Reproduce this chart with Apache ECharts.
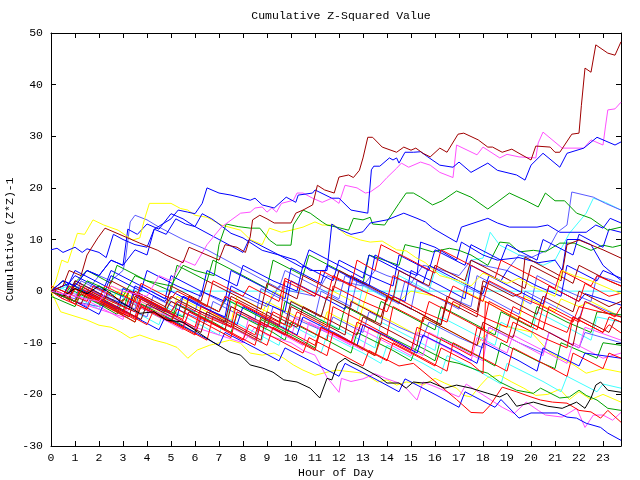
<!DOCTYPE html>
<html>
<head>
<meta charset="utf-8">
<script src="https://cdn.jsdelivr.net/npm/echarts@6/dist/echarts.min.js"></script>
<style>html,body{margin:0;padding:0;background:#fff}#c{width:640px;height:480px}</style>
</head>
<body>
<div id="c"></div>
<script>
// ---- data: [hour, cumulative (z*z)-1] ----
const sA = [[0,0],[0.5,1],[0.75,4],[1.25,3],[1.5,7],[1.95,10.3],[2.25,12.2],[2.75,11.2],[3.2,10.3],[3.7,9.3],[4.45,7.9],[4.8,7],[5.5,5.5],[5.75,8.5],[6.5,7],[7,6],[7.25,9],[7.75,8.5],[8.1,7.5],[8.3,10.5],[8.4,13.8],[8.7,14.7],[9,14],[9.3,13.2],[10,13.2],[10.2,15.1],[10.5,15.7],[10.9,16.7],[11.1,20.5],[11.4,19.6],[11.8,19],[12,22.1],[12.4,22.5],[12.6,22],[12.85,23.4],[13,25.8],[13.2,29.8],[13.4,29.8],[13.8,27.9],[14.4,26.9],[14.7,27.9],[15,27.3],[15.2,27.7],[15.5,26.7],[15.8,26],[16.2,27.7],[16.5,26.9],[16.96,30.4],[17.2,30.6],[17.8,29.3],[18.2,27.9],[18.4,27.9],[18.8,26.9],[19.2,27.5],[19.5,26.7],[20,25.4],[20.2,28.1],[20.8,27.9],[21,26.9],[21.2,26.9],[21.7,30.4],[22,30.6],[22.1,36],[22.25,43.2],[22.5,42.4],[22.7,47.7],[23.2,46.1],[23.5,45.7],[23.75,48.3]];
const sB = [[0,0],[0.5,2],[1,1],[1.5,4],[2,3],[2.5,6],[3,5],[3.5,8],[4,7],[4.3,12],[5,14],[5.3,15.7],[5.7,15.3],[6,15],[6.3,17],[6.5,20],[7,19],[7.5,18.6],[8,18],[8.3,17.6],[8.5,18],[8.8,16.7],[9.3,16.1],[9.8,18.2],[10.2,17.2],[10.3,18.6],[10.9,19],[11,19.6],[11.7,18],[12,18],[12.5,15.7],[13.2,15.1],[13.35,23.5],[13.45,24.2],[13.7,24.2],[14.1,25.8],[14.25,25.4],[14.4,25.8],[14.5,24.8],[14.75,26.9],[15.1,26.9],[15.4,27],[15.7,26],[16.2,24.4],[16.75,24],[17,25],[17.5,23],[18.2,24.8],[18.6,23.4],[19.4,22.5],[19.75,21.5],[20,24.4],[20.5,26.7],[21.2,24],[21.5,26.7],[22.2,27.7],[22.75,29.8],[23.5,28.3],[23.75,28.9]];
const sC = [[0,0],[1,-1],[2,-2],[2.5,1],[3,0],[4,-1],[4.5,3],[5,2],[5.5,6],[6,5],[6.5,9],[7.1,12.4],[7.9,15.1],[8.3,15.3],[8.5,16.1],[8.8,16.3],[9,15.3],[9.2,16.1],[9.4,15.3],[9.6,17],[10.1,17.6],[10.25,19],[10.5,19],[10.9,18],[11.3,17.2],[11.7,18],[12,17],[12.25,20.5],[12.75,20],[13.1,19],[13.3,19.2],[13.7,20.5],[14,22],[14.4,23.8],[14.6,24.8],[14.9,24],[15.4,25],[15.8,24.4],[16.2,23],[16.75,22],[16.9,28.3],[17.75,26.4],[18,27.9],[18.7,25.8],[19,26.5],[19.5,26],[20.2,25.8],[20.3,28.7],[20.5,30.8],[21.3,27.7],[22.2,27.7],[22.5,29.3],[23,28.3],[23.1,31.8],[23.2,35.1],[23.5,35.3],[23.75,36.6]];
const sD = [[0,0],[1,-2],[1.5,2],[2,1],[3,-1],[3.5,3],[4,2],[5,1],[5.5,5],[6,4],[6.8,3],[7,9],[7.3,13],[7.8,12.5],[8.3,12.2],[8.7,12.2],[9.1,9.9],[9.4,8.9],[10,8.9],[10.1,12.8],[10.5,15.7],[10.8,15.1],[11.3,13.4],[11.5,12.8],[11.9,12.4],[12.4,11.8],[12.6,14.1],[13,13.8],[13.3,14.3],[13.4,13],[13.9,12.8],[14.5,17],[14.8,19],[15.1,19],[15.4,18.2],[15.9,16.7],[16.3,17.5],[16.9,19.4],[17.5,18.2],[18.2,15.9],[19.1,19],[19.8,17.5],[20.3,16.3],[20.6,19],[21,17.5],[21.4,17.5],[21.9,15.1],[22.5,14.1],[23.2,11.8],[23.75,12.4]];
const sE = [[0,0],[0.75,1],[1,-0.5],[2.25,-3],[2.5,0],[3.75,-3],[4.75,-5.5],[5,-1],[6.25,-4],[7.25,-6.5],[7.5,-2],[8.75,-5],[9.75,-7.5],[10,-2],[11.25,-5],[11.5,-1],[12.75,-4],[13,1],[14.25,-2],[14.5,3],[15.75,0],[16,4],[17.25,1],[17.5,6],[18,6.4],[18.3,11.4],[18.7,8.9],[19.5,7],[20,6],[20.5,5],[21,6],[21.6,11.2],[22.3,15.1],[22.6,18],[23.1,17.2],[23.75,15.7]];
const sF = [[0,8],[0.25,8.3],[0.5,7.5],[1,8.5],[1.3,7.5],[1.5,8.2],[2,7.5],[2.3,6.5],[2.6,11],[3,10],[3.5,9],[4,8.5],[4.3,12],[4.8,11],[5.2,14],[5.6,13],[6,12.5],[6.3,15],[6.7,14],[7,13],[7.5,11.2],[8,10.3],[8.8,7.9],[9.5,7],[10.2,6],[10.8,4],[11.5,4],[11.7,13],[12,12],[12.5,11],[13,11.5],[13.3,13.2],[14,13.8],[14.7,15.1],[15.25,14.1],[15.6,13.4],[15.9,12.2],[16.9,9.5],[17.1,12.4],[18.2,14.1],[18.6,13.2],[19.1,12.4],[20.25,12.4],[20.7,12.8],[21.2,11.4],[22.3,11.4],[22.7,12.8],[23,12.2],[23.3,14.1],[23.75,13.2]];
const sG = [[0,0],[0.2,2],[0.45,6],[0.7,5.5],[1.1,11.2],[1.4,11],[1.75,13.8],[2.2,12.8],[2.8,11.8],[3.4,9.9],[3.7,10.3],[3.9,14],[4.1,17],[5,17],[5.4,16],[5.7,15.7],[6,14.7],[6.5,14.3],[7.1,12.8],[7.9,11.8],[8.3,10],[8.8,9],[9.1,12.2],[9.6,11.4],[10,11.8],[10.5,12.4],[11,13.4],[11.3,12.8],[11.8,12.8],[12.3,10.9],[12.9,9.9],[13.3,9.5],[13.8,9.7],[14.4,8],[14.8,7.8],[15.2,6.5],[15.6,5.5],[16.2,3],[17,2],[17.5,1],[18,3.5],[18.5,2.5],[19,1.5],[19.5,2.5],[20,1],[20.5,0],[21,-1],[21.3,4],[21.8,3],[22.5,2],[23,1],[23.75,-0.5]];
const sH = [[0,0],[0.5,-1],[1,0.5],[1.5,-0.5],[2,1],[2.5,-0.5],[2.9,-2.1],[3.7,-4.3],[4.3,-4],[4.8,-5.6],[5.5,-6],[6.1,-7.9],[6.75,-9.9],[7.45,-11.8],[7.9,-12.4],[8.3,-14.3],[8.8,-14.9],[9.25,-15.7],[9.7,-17.2],[10.25,-17.6],[10.8,-18.8],[11.2,-20.7],[11.5,-16.9],[11.7,-17.2],[11.95,-14],[12.25,-13],[12.5,-13.8],[12.75,-14.3],[13,-14.9],[13.7,-16.7],[14,-17.8],[14.5,-17.8],[14.8,-18.8],[15.1,-17.6],[15.5,-17.8],[15.8,-17.6],[16.4,-18.8],[16.9,-18.2],[17.5,-18.8],[18.2,-19.8],[18.7,-20.5],[19,-19.8],[19.4,-22.3],[20.1,-21.5],[20.7,-22.3],[21.3,-22.7],[21.9,-21.5],[22.25,-22.7],[22.5,-20.7],[22.7,-18.2],[22.9,-17.6],[23.2,-19.2],[23.75,-19.6]];
const sI = [[0,0],[1,-2],[2,-4.5],[2.25,-2],[3.5,-5],[4.5,-7.5],[4.75,-5],[6,-8],[7,-10.5],[7.25,-8],[8.5,-11],[9.5,-13.5],[9.75,-11],[11,-14],[12,-16.5],[12.25,-14],[13.5,-17],[14.5,-19.5],[14.75,-17],[16,-20],[17,-22.5],[17.25,-19.5],[18.5,-22.5],[18.75,-21],[19.5,-24.6],[20,-23.6],[21.1,-23.6],[21.5,-24.4],[21.9,-24.6],[22.3,-25.6],[22.9,-26.4],[23.2,-27.5],[23.75,-28.9]];
const sJ = [[0,0],[1,-2],[2,-3.5],[3,-5],[3.5,-2],[4,-3.5],[5,-5],[6,-7],[7,-8.5],[8,-10],[8.5,-7],[9,-8.5],[10,-10],[10.5,-11.5],[11,-12.4],[11.5,-16.7],[12,-19.6],[12.1,-16.9],[12.5,-17.5],[13,-17],[13.5,-16],[14,-17],[14.5,-17.8],[14.8,-18.8],[15.25,-21.1],[15.5,-17.6],[16,-18.5],[16.5,-19.5],[17,-20.5],[17.3,-18],[17.8,-19.5],[18.3,-21],[18.8,-22.5],[19.3,-23.7],[19.8,-21.5],[20.3,-23.1],[20.6,-24],[21.3,-24.4],[21.9,-22.7],[22.25,-26.4],[22.6,-24],[23,-24],[23.4,-25],[23.75,-23.5]];
const sK = [[0,0],[1,-2],[2,-3],[2.5,0],[3,-1],[4,-3],[5,-4],[5.5,-1],[6,-2],[7,-4],[7.5,0],[8,-1],[9,-3],[9.5,1],[10,0],[11,-1],[11.5,3],[12,2],[13,1],[13.5,4],[14,3],[15,1.5],[15.5,5],[16,4.5],[17,3],[17.5,6],[18,5],[19,4],[19.5,7],[20,6.5],[20.7,8],[21.1,11.4],[21.5,12.8],[21.7,19.2],[22.6,18.2],[23.1,17],[23.75,15.7]];
const sL = [[0,0],[0.75,1.5],[1,3],[2.25,0],[2.5,3],[3.75,0],[4,4],[5.25,1],[6.25,-1],[6.5,4],[7.75,1],[8,5],[9.25,2],[10.25,0],[10.5,5],[11.75,2],[12,6],[13.25,3],[14.25,1],[14.5,7],[15.75,4],[16,8],[17.25,5],[17.5,9],[18.75,6],[19,9],[20.25,6],[20.5,10],[21.75,7],[22,11],[23,8.5],[23.25,12],[23.75,11.4]];
const sM = [[0,0],[0.5,2],[0.75,0.5],[1.5,4],[2.5,1.5],[2.75,5],[4,2],[5,0],[5.25,5],[6.5,2],[6.75,6],[8,3],[9,0.5],[9.25,6],[10.5,3],[10.75,7],[12,4],[13,1.5],[13.25,7],[14.5,5],[14.75,9],[15.4,8.3],[15.9,7.6],[16.6,8.3],[17,7.9],[17.5,7],[18.2,5],[18.7,9.5],[19.1,9.3],[19.5,7.6],[20.1,7.9],[20.6,7.6],[21.2,9.3],[21.8,9.3],[22.5,7.9],[23,8.9],[23.4,8.5],[23.75,8.9]];
const sN = [[0,0],[0.75,-1.5],[1,1.5],[2.25,-1.5],[2.5,2],[3.75,-1],[4.75,-3.5],[5,1],[6.25,-2],[6.5,2],[7.75,-1],[8.75,-3.5],[9,1.5],[10.25,-1.5],[10.5,3],[11.75,0],[12,4],[13.25,1],[14.25,-1.5],[14.5,4],[15.75,1],[16,5],[17.25,2],[17.5,6],[18.75,3],[19.75,0.5],[20,5],[21.25,2],[21.5,9],[22,9.9],[23,8],[23.75,6.4]];
const sP = [[0,0],[0.5,-1],[1,1],[1.5,0],[2,3],[2.5,2],[3,4],[3.1,6],[3.3,13.4],[3.5,14.7],[4,13.8],[4.5,12.4],[5.5,10],[6.5,8],[7.5,5.5],[8.5,3],[9.5,0.5],[9.75,4],[11,1],[12,-1.5],[12.25,3],[13.5,0],[14.5,-2.5],[14.75,2],[16,-1],[17,-3.5],[17.25,1],[18.5,-2],[19.5,-4.5],[19.75,0],[21,-3],[22,-5.5],[22.25,-2],[23.75,-5]];
const sQ = [[0,0],[0.5,2],[1,1],[1.5,4],[2,3],[2.5,6],[3,5],[3.2,12],[3.6,11],[4,13],[4.5,12],[5,15],[5.5,14],[6,12.5],[7,10],[8,7.5],[8.25,10],[9.5,7],[10.5,4.5],[10.75,8],[12,5],[13,2.5],[13.25,7],[14.5,4],[15.5,1.5],[15.75,5],[17,2],[18,-0.5],[18.25,3],[19.5,0],[20.5,-2.5],[20.75,1],[22,-2],[22.25,-0.5],[23.75,-2.7]];
const sR = [[0,0],[0.4,-4],[1.5,-5.6],[2,-6.6],[2.5,-7],[2.9,-7.9],[3.3,-9.1],[3.7,-8.5],[4.3,-9.5],[4.8,-10.1],[5.25,-10.9],[5.7,-13],[6.1,-11.4],[6.6,-10.5],[7.45,-9.5],[7.9,-10.1],[8.3,-12],[8.8,-12.4],[9.3,-12],[9.7,-13],[10.1,-14.3],[10.5,-15.3],[11,-16.3],[11.5,-15.7],[11.9,-15.3],[13,-15.9],[13.6,-17.6],[14,-17.2],[14.4,-18.2],[14.8,-17.6],[15.25,-17.8],[15.5,-18.2],[16,-16.9],[16.4,-17.8],[16.9,-18.8],[17.2,-20.2],[17.5,-20.5],[17.9,-18.2],[18.2,-16.7],[18.7,-16.3],[19.2,-17.6],[19.7,-18.8],[20.2,-20.2],[20.7,-20],[21.2,-19],[21.6,-21],[22,-19.5],[22.5,-21],[23,-20],[23.75,-21.5]];
const sS = [[0,0],[1.25,-2.5],[1.5,0],[2.75,-3],[3.75,-5.5],[4,-2.5],[5.5,-6],[6.25,-8],[6.5,-4.5],[8,-8],[8.75,-10],[9,-6.5],[10.5,-10],[11.25,-12],[11.5,-8.5],[13,-12],[13.75,-14],[14,-10.5],[15.5,-14],[16.25,-16],[16.5,-12.5],[18,-16],[18.75,-18],[19,-14],[20.5,-17.5],[21.25,-19.5],[21.5,-16.5],[22.75,-19.5],[23,-18],[23.75,-18.8]];
const sT = [[0,0],[0.5,-1.5],[0.75,0.5],[2,-2.5],[2.75,-4.5],[3,-1.5],[4.5,-5],[5,-6],[5.25,-2.5],[6.75,-6],[7.5,-8],[7.75,-4.5],[9.25,-8],[9.75,-9.5],[10,-6],[11.5,-9.5],[12.5,-12],[12.75,-8],[14.25,-11.5],[15,-13.5],[15.25,-10.5],[16.5,-13.5],[17,-14],[17.75,-15.3],[18.2,-15.9],[18.7,-17.6],[19.4,-19.2],[20.1,-19.8],[20.4,-18.8],[21.2,-20.7],[21.6,-20.5],[22,-19.2],[22.3,-20.2],[22.75,-21.1],[23.2,-22.7],[23.75,-23.1]];
const sU = [[0,0],[0.5,-1],[0.75,1],[2,-2],[3,-4.5],[3.25,-1.5],[4.5,-4.5],[5.5,-7],[5.75,-4],[7,-7],[8,-9.5],[8.25,-6.5],[9.5,-9.5],[10.5,-12],[10.75,-9],[12,-12],[13,-14.5],[13.25,-11.5],[14.5,-14.5],[15.1,-14],[16,-17.5],[16.9,-21],[17.5,-23.5],[18,-23.6],[18.3,-22.1],[18.8,-18.6],[19.4,-19.5],[20,-20.5],[20.4,-21.1],[20.9,-21.5],[21.5,-21.7],[22,-23.1],[22.5,-23.4],[22.9,-24.6],[23.2,-23.1],[23.75,-25.4]];
const sW = [[0,0],[0.75,-1.5],[1,0.5],[2,-1.5],[2.25,1],[3.5,-2],[3.75,1.5],[5,-1.5],[5.25,0],[6.5,-3],[6.75,2],[8,-1],[8.25,1],[9.5,-2],[9.75,2.5],[11,-0.5],[11.5,-1.5],[11.75,3],[13,0],[14,-2],[14.25,3],[15.5,0],[16.5,-2],[16.75,1],[18,-2],[18.25,2],[19.5,-1],[20.5,-3],[20.75,1],[22,-2],[22.25,1.5],[23.25,-1],[23.75,-0.4]];
const sX = [[0,0],[1,-2],[1.25,1],[2.5,-2],[3.5,-4],[3.75,-1],[5,-4],[5.25,-2],[6.5,-5],[7.5,-7],[7.75,-2],[9,-5],[10,-7],[10.25,-4],[11.5,-7],[11.75,1],[13,-2],[14,-4],[14.25,-1],[15.5,-4],[16.5,-6],[16.75,-2],[18,-5],[19,-7],[19.25,-3],[20.5,-6],[21.5,-8],[21.75,-5],[23,-8],[23.25,-6.5],[23.75,-8.1]];
const sY = [[0,0],[1,-2],[1.5,-3],[1.75,0],[3,-3],[4,-5],[4.25,-1],[5.5,-4],[6.5,-6],[6.75,-2],[8,-5],[9,-7],[9.25,-3],[10.5,-6],[11.5,-8],[11.75,-5],[13,-8],[13.25,-4],[14.5,-7],[15.5,-9],[15.75,-6],[17,-9],[18,-11],[18.25,-7],[19.5,-10],[20.5,-12],[20.75,-8],[22,-11],[22.25,-8],[23.75,-10]];
const sZ = [[0,0],[0.5,-1],[0.75,1.5],[2,-1.5],[2.75,-3.5],[3,0.5],[4.25,-2.5],[5.25,-5],[5.5,-1],[6.75,-4],[7.75,-6.5],[8,-3],[9.25,-6],[10.25,-8.5],[10.5,-5],[12,-8.5],[12.75,-10.5],[13,-6.5],[14.5,-10],[15.25,-12],[15.5,-8.5],[17,-12],[17.75,-14],[18,-10],[19.5,-13.5],[20.25,-15.5],[20.5,-11],[22,-14.5],[22.25,-12],[23.75,-13]];
const sAA = [[0,0],[1,-2],[1.25,0.5],[2.5,-2.5],[3.5,-5],[3.75,-2],[5,-5],[6,-7.5],[6.25,-4],[7.5,-7],[8.5,-9.5],[8.75,-6],[10,-9],[10.25,-5],[11.5,-8],[12.5,-10.5],[12.75,-7],[14,-10],[15,-12.5],[15.25,-8],[16.5,-11],[17.5,-13.5],[17.75,-9],[19,-12],[19.25,-8.5],[20.5,-11.5],[21.5,-14],[21.75,-10],[23,-13],[23.75,-12]];
const sAB = [[0,0],[0.5,-1],[0.75,1.5],[2,-1.5],[3,-4],[3.25,0],[4.5,-3],[5.5,-5],[5.75,-1],[7,-4],[7.25,-1.5],[8.5,-4.5],[9.5,-7],[9.75,-2],[11,-5],[12,-7.5],[12.25,-3],[13.5,-6],[13.75,-2],[15,-5],[16,-7.5],[16.25,-3],[17.5,-6],[18.5,-8.5],[18.75,-4],[20,-7],[20.25,-3],[21.5,-6],[22.5,-8],[22.75,-4],[23.75,-4.6]];
const sAC = [[0,0],[0.75,-1.5],[1,2],[2.25,-1],[3.25,-3],[3.5,1],[4.75,-2],[5,0],[6.25,-3],[7.25,-5],[7.5,1],[8.75,-2],[9.75,-4],[10,2],[11.25,-1],[12.25,-3.5],[12.5,3],[13.75,0],[14.75,-2],[15,4],[16.25,1],[17.25,-1.5],[17.5,5],[18.75,2],[19,4],[20.25,1],[21.25,-1],[21.5,5],[22.75,2],[23,4],[23.75,2.5]];
const sAD = [[0,0],[1,-1.5],[1.25,2],[2.5,-1],[3.5,-3.5],[3.75,1],[5,-2],[6,-4],[6.25,0],[7.5,-3],[8.5,-5.5],[8.75,0.5],[10,-2.5],[11,-5],[11.25,0],[12.5,-3],[12.75,2],[14,-1],[15,-3.5],[15.25,2],[16.5,-1],[17.5,-3],[17.75,3],[19,0],[20,-2.5],[20.25,3],[21.5,0],[22.5,-2],[22.75,3],[23.75,1.6]];
const sAE = [[0,0],[0.75,1.5],[1,4],[2.25,1],[2.5,4],[3.75,1],[4.75,-1.5],[5,3],[6.25,0],[7.25,-2],[7.5,4],[8.75,1],[9.75,-1.5],[10,4.5],[11.25,1.5],[11.5,5],[12.75,2],[13.25,1],[13.5,7],[14.75,4],[15.25,3],[15.4,9.5],[16,8.5],[16.9,6],[17.1,9.5],[18,7],[18.6,6],[19.5,6.5],[20.3,5.5],[21,6],[21.3,4],[21.5,10],[22,10],[22.5,9],[23,5],[23.5,3],[23.75,2.1]];
const sAF = [[0,0],[0.5,-1.5],[1,-2.5],[1.25,-0.5],[2.5,-3.5],[3.5,-6],[3.75,-3],[5,-6],[6,-8.5],[6.25,-5],[7.5,-8],[8.5,-10.5],[8.75,-6],[10,-9],[11,-11.5],[11.25,-7],[12.5,-10],[12.75,-6],[14,-9],[15,-11.5],[15.25,-7],[16.5,-10],[17.5,-12.5],[17.75,-7],[19,-10],[19.25,-6],[20.5,-9],[21.5,-11],[21.75,-5],[23,-8],[23.25,-5],[23.75,-6]];
const sAG = [[0,1],[0.75,-0.5],[1,2],[2.25,-1],[3.25,-3.5],[3.5,0],[4.75,-3],[5,-1],[6.25,-4],[7.25,-6],[7.5,-1],[8.75,-4],[9.75,-6.5],[10,-2],[11.25,-5],[11.5,-1],[12.75,-4],[13.75,-6.5],[14,-1],[15.25,-4],[16.25,-6.5],[16.5,-2],[17.75,-5],[18,1],[19.25,-2],[20.25,-4.5],[20.5,-1],[21.75,-4],[22,0],[23.25,-3],[23.75,-2]];
const sAH = [[0,0],[0.5,-1.5],[0.75,0],[2,-3],[3,-5.5],[3.25,-2],[4.5,-5],[5.5,-7.5],[5.75,-4],[7,-7],[8,-9.5],[8.25,-5],[9.5,-8],[10.5,-10.5],[10.75,-6],[12,-9],[13,-11.5],[13.25,-7],[14.5,-10],[15.5,-12.5],[15.75,-8],[17,-11],[18,-13.5],[18.25,-7],[19.5,-10],[20.5,-12.5],[20.75,-8],[22,-11],[22.25,-7],[23.75,-9.5]];
const sAI = [[0,0],[0.5,0.5],[1,-1],[2,-3.5],[2.25,-1],[3.5,-4],[4.5,-6.5],[4.75,-3],[6,-6],[7,-8.5],[7.25,-5],[8.5,-8],[9.5,-10.5],[9.75,-6],[11,-9],[11.25,-5.5],[12.5,-8.5],[13.5,-11],[13.75,-6],[15,-9],[16,-11.5],[16.25,-5],[17.5,-8],[18.5,-10.5],[18.75,-6],[20,-9],[20.25,-4],[21.5,-7],[22.5,-9.5],[22.75,-5],[23.75,-6]];
const sAJ = [[0,-1],[1,-3],[1.25,-0.5],[2.75,-4],[3.5,-6],[3.75,-2.5],[5.25,-6],[6,-8],[6.25,-4],[7.75,-7.5],[8.5,-9.5],[8.75,-5.5],[10.25,-9],[11,-11],[11.25,-7],[12.75,-10.5],[13.5,-12.5],[13.75,-8],[15.25,-11.5],[16,-13.5],[16.25,-9],[17.75,-12.5],[18.5,-14.5],[18.75,-10],[20.25,-13.5],[21,-15],[21.25,-10],[22.75,-13],[23,-10],[23.75,-10.5]];
const sAK = [[0,1],[0.75,-0.5],[1.5,-2],[1.75,1],[3,-2],[3.25,0],[4.5,-3],[5.5,-5.5],[5.75,-1],[7,-4],[7.25,-1],[8.5,-4],[9.5,-6.5],[9.75,2],[11,-1],[11.25,4],[12.5,1],[12.75,6],[13.5,4],[13.75,9],[15,6],[16,3.5],[16.25,8],[17.5,5],[18.5,2.5],[18.75,6],[20,3],[21,0.5],[21.25,4],[22.5,1],[22.75,3],[23.75,1]];
const sAM = [[0,0],[1,-2],[1.25,0.5],[2.5,-2.5],[3.5,-5],[3.75,-1.5],[5,-4.5],[6,-7],[6.25,-3],[7.5,-6],[8.5,-8.5],[8.75,-5],[10,-8],[11,-10.5],[11.25,-7],[12.5,-10],[13.5,-12.5],[13.75,-9],[15,-12],[16,-14.5],[16.25,-11],[17.5,-14],[18,-16],[18.1,-2],[19.25,-5],[20.25,-7.5],[20.5,-3],[21.75,-6],[22,-3],[23.75,-5]];
const sAN = [[0,0],[0.75,-1.5],[1,0.5],[2.25,-2.5],[3.25,-5],[3.5,-1],[4.75,-4],[5,-2],[6.25,-5],[7.25,-7.5],[7.5,-3],[8.75,-6],[9.75,-8.5],[10,-3],[11.25,-6],[12.25,-8.5],[12.5,-2],[13.75,-5],[14,-1],[15.25,-4],[16.25,-6.5],[16.5,-1],[17.75,-4],[18,2],[19.25,-1],[19.6,-0.4],[19.75,6.6],[21,3.5],[21.75,1.5],[22,5],[23.25,2],[23.75,1]];
const sAO = [[0,0],[0.5,-1],[1,0.5],[1.5,-0.5],[2,1],[2.5,-1],[3,0.5],[3.6,0],[23.75,0]];
const sAP = [[0,0],[0.75,-1.5],[1,1],[2.25,-2],[2.5,1],[3.75,-2],[4.75,-4.5],[5,-1],[6.25,-4],[7.25,-6.5],[7.5,-2],[8.75,-5],[9,-2],[10.25,-5],[11.25,-7.5],[11.5,-4],[12.75,-7],[13,-3],[14.25,-6],[15.25,-8.5],[15.5,-5],[16.75,-8],[17.75,-10.5],[18,-8.9],[18.7,-6.6],[19.3,-7.2],[20,-7.9],[20.8,-12],[21.75,-14.2],[22.3,-15.9],[23,-15],[23.75,-15.7]];
const sAQ = [[0,0],[1,-2],[1.25,0],[2.5,-3],[2.75,0],[4,-3],[5,-5.5],[5.25,-1],[6.5,-4],[7.5,-6],[7.75,-1],[9,-4],[9.25,0],[10.5,-3],[11.5,-5.5],[11.75,0],[13,-3],[13.25,1],[14.5,-2],[15,0],[16,-1],[17,-3],[17.25,0],[18.5,-3],[19.5,-5.5],[19.75,-1],[21,-4],[21.25,-1.5],[22,-3],[22.5,-2],[23.75,-5]];
const sAR = [[0,0],[0.5,-1],[1,-2.5],[1.5,-3.5],[1.75,-1],[3,-4],[4,-6.5],[4.25,-4],[5.5,-7],[6.5,-9.5],[6.75,-5],[8,-8],[9,-10.5],[9.25,-7],[10.5,-10],[11.5,-12.5],[11.75,-8],[13,-11],[14,-13.5],[14.25,-10],[15.5,-13],[16.5,-15.5],[16.75,-10],[18,-13],[19,-15.5],[19.25,-11],[20.5,-14],[21.5,-16.5],[21.75,-12],[23,-15],[23.25,-12],[23.75,-13]];
const sAS = [[0,0.5],[0.5,-0.5],[1,-2],[1.25,0],[2.5,-3],[3.5,-5.5],[3.75,-3],[5,-6],[5.25,-3.5],[6.5,-6.5],[7.5,-9],[7.75,-4],[9,-7],[9.25,-4],[10.5,-7],[11.5,-9.5],[11.75,-3],[13,-6],[14,-8.5],[14.25,-3],[15.5,-6],[15.75,-2],[17,-5],[18,-7.5],[18.25,-2],[19.5,-5],[20.5,-7.5],[20.75,-3],[22,-6],[22.25,-2],[23.5,-5],[23.75,-3]];
const sAT = [[0,0],[1.25,-2.5],[1.5,0],[2.75,-3],[3.75,-5.5],[4,-2.5],[5.25,-5.5],[6.25,-8],[6.5,-4],[7.75,-7],[8.75,-9.5],[9,-4],[10.25,-7],[10.5,-3],[11.75,-6],[12.75,-8.5],[13,-5],[14.25,-8],[15.25,-10.5],[15.5,-5],[16.75,-8],[17.75,-10.5],[18,-6],[19.25,-9],[19.5,-5],[20.75,-8],[21.75,-10.5],[22,-5],[23.25,-8],[23.5,-5.5],[23.75,-6]];

const hourTicks = [0,1,2,3,4,5,6,7,8,9,10,11,12,13,14,15,16,17,18,19,20,21,22,23];

// series drawing order (first drawn at the bottom) with colours
const RED='#ff0000', DRED='#a00000', GRN='#00a000', BLU='#0000ff', LBL='#5a5aff',
      MAG='#ff50ff', CYN='#40ffff', YEL='#ffff00', BLK='#000000';
const order = [
  [sAO,CYN],[sAQ,YEL],[sAP,YEL],[sR,YEL],[sAI,CYN],[sS,CYN],[sE,CYN],
  [sAD,LBL],[sY,LBL],[sP,LBL],[sK,LBL],
  [sAB,GRN],[sAJ,GRN],[sT,GRN],[sM,GRN],
  [sAA,MAG],[sAH,MAG],[sJ,MAG],
  [sAC,BLU],[sAE,BLU],[sZ,BLU],[sQ,BLU],[sL,BLU],[sI,BLU],
  [sAG,DRED],[sAN,DRED],[sN,DRED],[sAT,DRED],
  [sW,RED],[sX,RED],[sAF,RED],[sAK,RED],[sAM,RED],[sU,RED],[sAR,RED],[sAS,RED],
  [sH,BLK],[sG,YEL],[sD,GRN],[sF,BLU],[sC,MAG],[sB,BLU],[sA,DRED]
];

const FONT = 'Liberation Mono';
const chart = echarts.init(document.getElementById('c'), null, {renderer:'canvas'});
function tick(){ return {show:true, inside:true, length:5, lineStyle:{color:'#000', width:1}}; }
function aline(){ return {show:true, onZero:false, lineStyle:{color:'#000', width:1}}; }
function lab(extra){ return Object.assign({color:'#000', fontFamily:FONT, fontSize:11.5}, extra || {}); }
chart.setOption({
  animation:false,
  backgroundColor:'#fff',
  title:{text:'Cumulative Z-Squared Value', left:336, top:5, textAlign:'center',
         textStyle:{color:'#000', fontFamily:FONT, fontSize:11.5, fontWeight:'normal'}},
  grid:{left:51, right:19, top:33, bottom:34, containLabel:false, outerBoundsMode:'none'},
  xAxis:[
    {type:'value', min:0, max:23.75, interval:1, position:'bottom',
     name:'Hour of Day', nameLocation:'middle', nameGap:21, nameMoveOverlap:false,
     nameTextStyle:lab(),
     axisLine:aline(), axisTick:tick(), splitLine:{show:false},
     axisLabel:lab({margin:6, showMaxLabel:false,
       formatter:v => hourTicks.indexOf(v) >= 0 ? String(v) : ''})},
    {type:'value', min:0, max:23.75, interval:1, position:'top',
     axisLine:aline(), axisTick:tick(), splitLine:{show:false}, axisLabel:{show:false}}
  ],
  yAxis:[
    {type:'value', min:-30, max:50, interval:10, position:'left',
     name:'Cumulative (Z*Z)-1', nameLocation:'middle', nameGap:35, nameRotate:90,
     nameMoveOverlap:false,
     nameTextStyle:lab(),
     axisLine:aline(), axisTick:tick(), splitLine:{show:false},
     axisLabel:lab({margin:8})},
    {type:'value', min:-30, max:50, interval:10, position:'right',
     axisLine:aline(), axisTick:tick(), splitLine:{show:false}, axisLabel:{show:false}}
  ],
  series: order.map(([d,c]) => ({
    type:'line', data:d, xAxisIndex:0, yAxisIndex:0,
    showSymbol:false, symbol:'none', smooth:false, silent:true,
    lineStyle:{color:c, width:1}, itemStyle:{color:c}
  }))
});
</script>
</body>
</html>
